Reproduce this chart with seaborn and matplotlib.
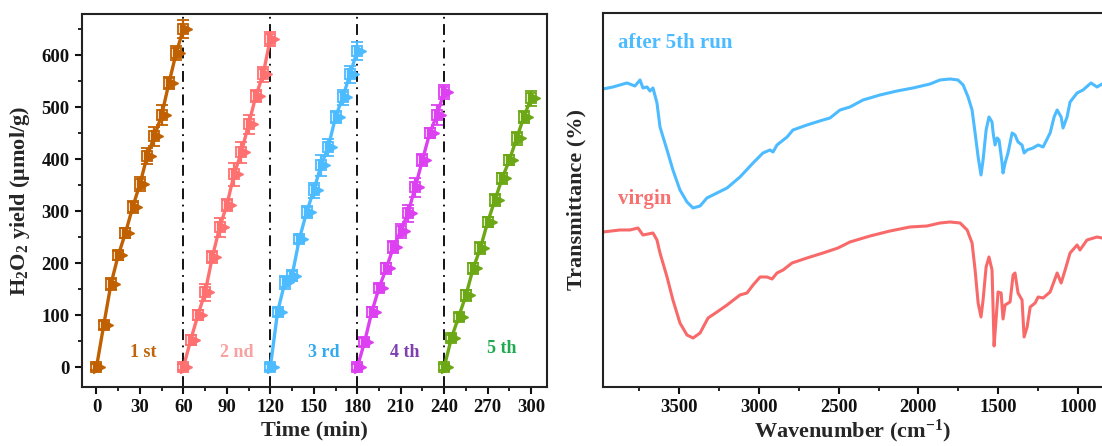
import numpy as np
import pandas as pd
import matplotlib
matplotlib.use("Agg")
import matplotlib.pyplot as plt
from matplotlib.ticker import MultipleLocator
from matplotlib.transforms import offset_copy
import seaborn as sns

# ---------------- data: H2O2 cycling ----------------
time_in_run = [0, 5, 10, 15, 20, 25, 30, 35, 40, 45, 50, 55, 60]
run_start = [0, 60, 120, 180, 240]
run_names = ["1 st", "2 nd", "3 rd", "4 th", "5 th"]
run1 = [0, 81, 160, 215, 258, 308, 352, 406, 444, 485, 546, 604, 650]
run2 = [0, 52, 100, 144, 212, 269, 312, 371, 413, 467, 521, 563, 631]
run3 = [0, 106, 163, 176, 246, 298, 340, 388, 423, 481, 519, 563, 608]
run4 = [0, 48, 106, 152, 190, 231, 262, 296, 346, 398, 450, 485, 529]
run5 = [0, 56, 97, 138, 190, 229, 279, 321, 363, 398, 440, 481, 517]
err1 = [6, 8, 12, 8, 10, 12, 14, 16, 18, 20, 12, 14, 18]
err2 = [6, 10, 10, 16, 12, 18, 12, 22, 20, 18, 12, 14, 14]
err3 = [6, 8, 12, 10, 8, 12, 14, 20, 16, 12, 14, 16, 18]
err4 = [6, 8, 10, 8, 10, 12, 14, 16, 18, 12, 10, 20, 14]
err5 = [6, 6, 8, 10, 10, 12, 10, 12, 10, 10, 12, 12, 14]
runs = [run1, run2, run3, run4, run5]
errs = [err1, err2, err3, err4, err5]
run_colors = ["#C06000", "#FF7070", "#4DBBFF", "#DD40F0", "#6CA815"]
label_colors = ["#C0650A", "#F9A0A0", "#33AAEE", "#7E3FAF", "#20AA50"]
label_x = [32, 97, 157, 213, 280]
label_y = [29, 29, 29, 29, 36]
run_boundaries = [60, 120, 180, 240]

# ---------------- data: FTIR ----------------
wn_after = [3976, 3914, 3826, 3776, 3744, 3726, 3700, 3682, 3663, 3638, 3619, 3575, 3538,
            3494, 3450, 3412, 3368, 3325, 3262, 3199, 3118, 3036, 2974, 2930, 2911, 2886,
            2823, 2786, 2698, 2598, 2554, 2491, 2429, 2347, 2241, 2134, 2034, 1927, 1865,
            1802, 1752, 1720, 1689, 1664, 1645, 1626, 1608, 1595, 1576, 1558, 1539, 1532,
            1520, 1507, 1495, 1476, 1470, 1457, 1439, 1413, 1395, 1376, 1351, 1338, 1319,
            1282, 1250, 1219, 1175, 1150, 1131, 1106, 1094, 1069, 1050, 1006, 969, 919, 881, 850]
tr_after = [298, 300, 304, 301, 307, 299, 300, 296, 299, 284, 260, 237, 217,
            197, 185, 179, 181, 189, 194, 199, 210, 224, 234, 237, 235, 242,
            250, 257, 262, 267, 269, 277, 280, 287, 292, 296, 299, 303, 307,
            308, 307, 302, 290, 277, 254, 230, 212, 227, 257, 270, 265, 254,
            242, 249, 247, 224, 214, 224, 234, 254, 252, 245, 242, 234, 237,
            239, 242, 240, 254, 270, 277, 270, 259, 270, 285, 294, 297, 304, 300, 303]
wn_virgin = [3976, 3870, 3807, 3757, 3726, 3694, 3663, 3638, 3619, 3575, 3538, 3494, 3450,
             3412, 3368, 3318, 3262, 3199, 3118, 3074, 3036, 2992, 2949, 2917, 2886, 2848,
             2792, 2698, 2598, 2504, 2429, 2303, 2178, 2053, 1946, 1865, 1802, 1739, 1695,
             1664, 1645, 1626, 1608, 1595, 1576, 1558, 1539, 1532, 1526, 1514, 1501, 1482,
             1470, 1457, 1426, 1407, 1395, 1376, 1351, 1338, 1319, 1300, 1269, 1250, 1219,
             1175, 1131, 1106, 1081, 1050, 1006, 988, 944, 881, 850]
tr_virgin = [155, 157, 157, 159, 152, 153, 154, 147, 134, 110, 87, 64, 52,
             49, 54, 69, 75, 82, 92, 94, 102, 110, 110, 108, 114, 117,
             124, 129, 134, 139, 145, 151, 156, 160, 161, 164, 165, 164, 157,
             144, 117, 84, 70, 87, 120, 130, 117, 77, 41, 67, 95, 94,
             68, 82, 85, 112, 114, 94, 87, 50, 60, 80, 84, 90, 89,
             95, 114, 104, 117, 134, 142, 137, 147, 150, 149]

# ---------------- style ----------------
sns.set_theme(style="ticks")
plt.rcParams["font.family"] = ["Liberation Serif", "DejaVu Serif"]
plt.rcParams["font.weight"] = "bold"
plt.rcParams["axes.labelweight"] = "bold"
plt.rcParams["mathtext.fontset"] = "custom"
plt.rcParams["mathtext.rm"] = "Liberation Serif:bold"
plt.rcParams["mathtext.it"] = "Liberation Serif:bold"
plt.rcParams["mathtext.bf"] = "Liberation Serif:bold"

fig = plt.figure(figsize=(11.02, 4.46), dpi=100)
ax1 = fig.add_axes([0.0744, 0.1323, 0.4220, 0.8363])
ax2 = fig.add_axes([0.5472, 0.1323, 0.4528, 0.8386])

# ---------------- left panel ----------------
tri_trans = offset_copy(ax1.transData, fig=fig, x=3, y=0, units="dots")
for start, vals, er, col in zip(run_start, runs, errs, run_colors):
    t = [start + v for v in time_in_run]
    df = pd.DataFrame({"t": t, "y": vals})
    sns.lineplot(data=df, x="t", y="y", ax=ax1, color=col, lw=2.4,
                 estimator=None, sort=False, legend=False, zorder=3)
    ax1.errorbar(t, vals, yerr=er, fmt="s", mfc="none", mec=col, ms=6.5, mew=1.3,
                 ecolor=col, elinewidth=1.6, capsize=4, capthick=1.6, zorder=4)
    ax1.plot(t, vals, ls="none", marker=">", ms=8.5, color=col, transform=tri_trans, zorder=5)

for xb in run_boundaries:
    ax1.axvline(xb, color="black", lw=1.3, ls=(0, (6, 3, 1, 3)), zorder=2)

for name, x, y, c in zip(run_names, label_x, label_y, label_colors):
    ax1.text(x, y, name, color=c, fontsize=13, fontweight="bold", ha="center", va="center")

ax1.set_xlim(-10, 311)
ax1.set_ylim(-38, 679)
ax1.xaxis.set_major_locator(MultipleLocator(30))
ax1.xaxis.set_minor_locator(MultipleLocator(15))
ax1.yaxis.set_major_locator(MultipleLocator(100))
ax1.yaxis.set_minor_locator(MultipleLocator(50))
ax1.set_xlabel("Time (min)", fontsize=16, fontweight="bold", labelpad=3)
ax1.set_ylabel(r"H$_2$O$_2$ yield ($\mathregular{\mu}$mol/g)", fontsize=16, fontweight="bold", labelpad=7)

# ---------------- right panel ----------------
df_a = pd.DataFrame({"wn": wn_after, "T": tr_after})
df_v = pd.DataFrame({"wn": wn_virgin, "T": tr_virgin})
sns.lineplot(data=df_a, x="wn", y="T", ax=ax2, color="#4DBBFF", lw=2.2,
             estimator=None, sort=False, legend=False)
sns.lineplot(data=df_v, x="wn", y="T", ax=ax2, color="#F86A6A", lw=2.2,
             estimator=None, sort=False, legend=False)
ax2.text(3880, 344, "after 5th run", color="#4DBBFF", fontsize=15, fontweight="bold",
         ha="left", va="center")
ax2.text(3880, 188, "virgin", color="#F87070", fontsize=15, fontweight="bold",
         ha="left", va="center")
ax2.set_xlim(3976, 850)
ax2.set_ylim(0, 374)
ax2.xaxis.set_major_locator(MultipleLocator(500))
ax2.xaxis.set_minor_locator(MultipleLocator(250))
ax2.set_yticks([])
ax2.spines["right"].set_visible(False)
ax2.set_xlabel(r"Wavenumber (cm$^{\mathregular{-1}}$)", fontsize=16, fontweight="bold", labelpad=1)
ax2.set_ylabel("Transmittance (%)", fontsize=16, fontweight="bold", labelpad=12)

for ax in (ax1, ax2):
    for s in ax.spines.values():
        s.set_linewidth(1.5)
        s.set_color("#222222")
    ax.tick_params(which="major", direction="out", length=5, width=1.5, labelsize=13.5,
                   colors="#111111", pad=4)
    ax.tick_params(which="minor", direction="out", length=3, width=1.3, colors="#111111")
    for lab in ax.get_xticklabels() + ax.get_yticklabels():
        lab.set_fontweight("bold")
ax2.tick_params(axis="y", which="both", left=False)

fig.savefig("out.png", dpi=100)
